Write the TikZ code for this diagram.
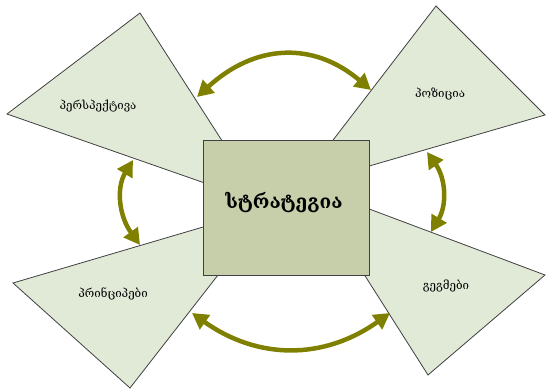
\documentclass[tikz,border=0pt]{standalone}
\usepackage{fontspec}
\setmainfont{DejaVu Serif}
\usetikzlibrary{arrows.meta}
\definecolor{petal}{HTML}{E1E9D7}
\definecolor{core}{HTML}{C6CFAA}
\definecolor{olivearrow}{HTML}{7F8000}
\definecolor{edge}{HTML}{404040}
\tikzset{
  petal/.style={fill=petal, draw=edge, line width=0.8pt, line join=miter},
  corebox/.style={fill=core, draw=edge, line width=1pt},
  label/.style={font=\fontsize{11.5}{13}\selectfont, text=black},
  title/.style={font=\fontsize{19}{22}\selectfont\bfseries, text=black},
  cycle arrow/.style={draw=olivearrow, line width=4.5pt,
    {Triangle[length=16pt,width=17pt]}-{Triangle[length=16pt,width=17pt]}}
}
\begin{document}
\begin{tikzpicture}[x=1pt,y=-1pt]
  \useasboundingbox (0,0) rectangle (546,390);

  % four triangles pointing into the centre
  \draw[petal] (140,13) -- (7,114) -- (262,203) -- cycle;
  \draw[petal] (436,6) -- (545,115) -- (297,187) -- cycle;
  \draw[petal] (13,283) -- (130,388) -- (271,207) -- cycle;
  \draw[petal] (545,275) -- (428,375) -- (308,186) -- cycle;

  % central box
  \node[corebox, minimum width=166pt, minimum height=135pt, inner sep=0pt,
        anchor=north west] (core) at (203,140) {};
  \node[title] (strategy) at (284,203) {სტრატეგია};

  % triangle labels
  \node[label] (perspective) at (98,106) {პერსპექტივა};
  \node[label] (position) at (440,94) {პოზიცია};
  \node[label] (principles) at (113,294) {პრინციპები};
  \node[label] (plans) at (446,286) {გეგმები};

  % arrow end points on the triangle edges
  \coordinate (tlA) at (197,97);
  \coordinate (trA) at (371,90);
  \coordinate (tlB) at (133,160);
  \coordinate (blB) at (140,245);
  \coordinate (trB) at (427,152);
  \coordinate (brB) at (431,232);
  \coordinate (blC) at (192,313);
  \coordinate (brC) at (390,313);

  % curved double arrows between neighbouring triangles
  \draw[cycle arrow] (tlA) .. controls (255,44) and (313,41) .. (trA);
  \draw[cycle arrow] (tlB) .. controls (116,188) and (119,216) .. (blB);
  \draw[cycle arrow] (trB) .. controls (446,179) and (447,205) .. (brB);
  \draw[cycle arrow] (blC) .. controls (258,360) and (324,360) .. (brC);
\end{tikzpicture}
\end{document}
